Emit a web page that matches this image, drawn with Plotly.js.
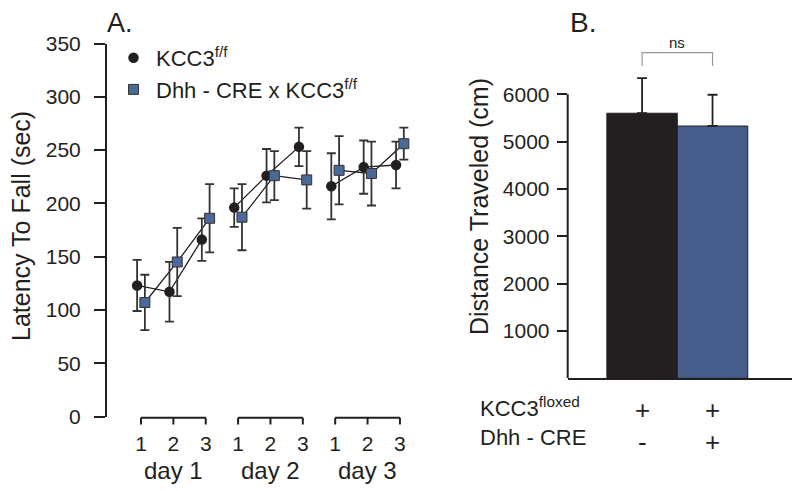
<!DOCTYPE html>
<html>
<head>
<meta charset="utf-8">
<script src="https://cdn.plot.ly/plotly-3.0.1.min.js"></script>
<style>html,body{margin:0;padding:0;background:#fff;}#chart{width:800px;height:491px;}</style>
</head>
<body>
<div id="chart"></div>
<script>
// ---- Data ----
const dayLabels = ['day 1', 'day 2', 'day 3'];
const trialLabels = ['1', '2', '3'];
const seriesNames = ['KCC3<sup>f/f</sup>', 'Dhh - CRE x KCC3<sup>f/f</sup>'];
const kccMean = [123, 117, 166, 196, 226, 253, 216, 234, 236];
const kccErr  = [24, 28, 20, 18, 25, 18, 31, 25, 22];
const creMean = [107, 145, 186, 187, 226, 222, 231, 228, 256];
const creErr  = [26, 32, 32, 31, 23, 27, 32, 30, 15];

const barValues = [5600, 5330];
const barErrors = [740, 660];
const kcc3Row = ['+', '+'];
const creRow = ['-', '+'];
const yTicksA = [0, 50, 100, 150, 200, 250, 300, 350];
const yTicksB = [1000, 2000, 3000, 4000, 5000, 6000];

// ---- Styling / layout helpers ----
const W = 800, H = 491;
const px = v => v / W;            // pixel -> paper x
const py = v => 1 - v / H;        // pixel -> paper y
const FONT = 'Arial, "Liberation Sans", Helvetica, sans-serif';
const INK = '#231f20';
const BLUE = '#4a6898';
const BLUE_BAR = '#475e8c';
const OFF = 0.12;

// positions 1..9 on the x axis of panel A
const pos = [];
const tickText = [];
dayLabels.forEach((d, di) => trialLabels.forEach((t, ti) => { pos.push(di * 3 + ti + 1); tickText.push(t); }));

// line traces per day (no connection across days)
function lineXY(mean, off) {
  const x = [], y = [];
  dayLabels.forEach((d, di) => {
    trialLabels.forEach((t, ti) => { const k = di * 3 + ti; x.push(pos[k] + off); y.push(mean[k]); });
    x.push(null); y.push(null);
  });
  return {x, y};
}
const lk = lineXY(kccMean, -OFF), lc = lineXY(creMean, OFF);

const traces = [
  {x: lk.x, y: lk.y, mode: 'lines', line: {color: INK, width: 1.3}, showlegend: false, hoverinfo: 'skip', xaxis: 'x', yaxis: 'y', connectgaps: false},
  {x: lc.x, y: lc.y, mode: 'lines', line: {color: INK, width: 1.3}, showlegend: false, hoverinfo: 'skip', xaxis: 'x', yaxis: 'y', connectgaps: false},
  {x: pos.map(p => p - OFF), y: kccMean, name: seriesNames[0], mode: 'markers', xaxis: 'x', yaxis: 'y',
   marker: {symbol: 'circle', size: 10.5, color: INK},
   error_y: {type: 'data', array: kccErr, visible: true, color: '#333', thickness: 1.8, width: 4.5}},
  {x: pos.map(p => p + OFF), y: creMean, name: seriesNames[1], mode: 'markers', xaxis: 'x', yaxis: 'y',
   marker: {symbol: 'square', size: 10, color: BLUE, line: {color: '#333', width: 1}},
   error_y: {type: 'data', array: creErr, visible: true, color: '#333', thickness: 1.8, width: 4.5}},
  {type: 'bar', x: barValues.map((v, i) => i), y: barValues, width: 1, xaxis: 'x2', yaxis: 'y2', showlegend: false,
   marker: {color: ['#231f20', BLUE_BAR], line: {color: '#222', width: 1}},
   error_y: {type: 'data', symmetric: false, array: barErrors, arrayminus: barErrors.map(() => 0), color: '#222', thickness: 1.8, width: 5}}
];

// brackets under panel A
const shapes = [];
const bTop = py(417.7), bBot = py(424.5);
dayLabels.forEach((d, di) => {
  const a = pos[di * 3], b = pos[di * 3 + 1], c = pos[di * 3 + 2];
  shapes.push({type: 'line', xref: 'x', yref: 'paper', x0: a, x1: c, y0: bTop, y1: bTop, line: {color: INK, width: 2}});
  [a, b, c].forEach(v => shapes.push({type: 'line', xref: 'x', yref: 'paper', x0: v, x1: v, y0: bTop, y1: bBot, line: {color: INK, width: 2}}));
});
// y axis line of panel B (0..6000 only)
shapes.push({type: 'line', xref: 'x2 domain', yref: 'y2', x0: 0, x1: 0, y0: 0, y1: yTicksB[yTicksB.length - 1], line: {color: INK, width: 2}});
// ns bracket
shapes.push({type: 'path', xref: 'x2', yref: 'y2', path: 'M 0,6598 L 0,6879 L 1,6879 L 1,6598', line: {color: '#999', width: 1.2}});

const annotations = [
  {text: 'A.', xref: 'paper', yref: 'paper', x: px(105), y: py(23), xanchor: 'left', yanchor: 'middle', showarrow: false, font: {size: 27, color: INK, family: FONT}},
  {text: 'B.', xref: 'paper', yref: 'paper', x: px(568), y: py(23), xanchor: 'left', yanchor: 'middle', showarrow: false, font: {size: 28, color: INK, family: FONT}},
  {text: 'Latency To Fall (sec)', xref: 'paper', yref: 'paper', x: px(21), y: py(226), textangle: -90, xanchor: 'center', yanchor: 'middle', showarrow: false, font: {size: 25, color: INK, family: FONT}},
  {text: 'Distance Traveled (cm)', xref: 'paper', yref: 'paper', x: px(479), y: py(207), textangle: -90, xanchor: 'center', yanchor: 'middle', showarrow: false, font: {size: 25, color: INK, family: FONT}},
  {text: 'ns', xref: 'x2', yref: 'paper', x: 0.5, y: py(43), xanchor: 'center', yanchor: 'middle', showarrow: false, font: {size: 15, color: INK, family: FONT}},
  {text: 'KCC3<sup>floxed</sup>', xref: 'paper', yref: 'paper', x: px(478), y: py(407), xanchor: 'left', yanchor: 'middle', showarrow: false, font: {size: 22, color: INK, family: FONT}},
  {text: 'Dhh - CRE', xref: 'paper', yref: 'paper', x: px(478), y: py(437), xanchor: 'left', yanchor: 'middle', showarrow: false, font: {size: 22, color: INK, family: FONT}}
];
dayLabels.forEach((d, di) => annotations.push({text: d, xref: 'x', yref: 'paper', x: pos[di * 3 + 1], y: py(470), xanchor: 'center', yanchor: 'middle', showarrow: false, font: {size: 24, color: INK, family: FONT}}));
kcc3Row.forEach((s, i) => annotations.push({text: s, xref: 'x2', yref: 'paper', x: i, y: py(410), xanchor: 'center', yanchor: 'middle', showarrow: false, font: {size: 26, color: INK, family: FONT}}));
creRow.forEach((s, i) => annotations.push({text: s, xref: 'x2', yref: 'paper', x: i, y: py(442), xanchor: 'center', yanchor: 'middle', showarrow: false, font: {size: 26, color: INK, family: FONT}}));

const layout = {
  width: W, height: H,
  margin: {l: 0, r: 0, t: 0, b: 0},
  paper_bgcolor: '#fff', plot_bgcolor: 'rgba(0,0,0,0)',
  font: {family: FONT, color: INK, size: 21},
  showlegend: true,
  legend: {x: px(111), y: py(37), xanchor: 'left', yanchor: 'top', itemwidth: 35, bgcolor: 'rgba(0,0,0,0)', font: {size: 22, color: INK, family: FONT}, tracegroupgap: 0, itemclick: false},
  xaxis: {domain: [px(107), px(420)], range: [-0.05, 9.62], anchor: 'y', showline: false, showgrid: false, zeroline: false,
          tickmode: 'array', tickvals: pos, ticktext: tickText, ticks: '', ticklabelstandoff: 12, tickfont: {size: 21, color: INK}},
  yaxis: {domain: [py(416.5), py(43.5)], range: [0, 350], anchor: 'x', showline: true, linecolor: INK, linewidth: 2, showgrid: false, zeroline: false,
          tickmode: 'array', tickvals: yTicksA, ticks: 'outside', ticklen: 11, tickwidth: 2, tickcolor: INK, ticklabelstandoff: 9, tickfont: {size: 21, color: INK}},
  xaxis2: {domain: [px(567.7), px(792)], range: [-1.056, 2.128], anchor: 'y2', showline: true, linecolor: INK, linewidth: 2, showgrid: false, zeroline: false,
           showticklabels: false, ticks: ''},
  yaxis2: {domain: [py(378.3), py(35.7)], range: [0, 7238], anchor: 'x2', showline: false, showgrid: false, zeroline: false,
           tickmode: 'array', tickvals: yTicksB, ticks: 'outside', ticklen: 10, tickwidth: 2, tickcolor: INK, ticklabelstandoff: 3, tickfont: {size: 21, color: INK}},
  shapes: shapes,
  annotations: annotations
};

Plotly.newPlot('chart', traces, layout, {displayModeBar: false, staticPlot: true});
</script>
</body>
</html>
